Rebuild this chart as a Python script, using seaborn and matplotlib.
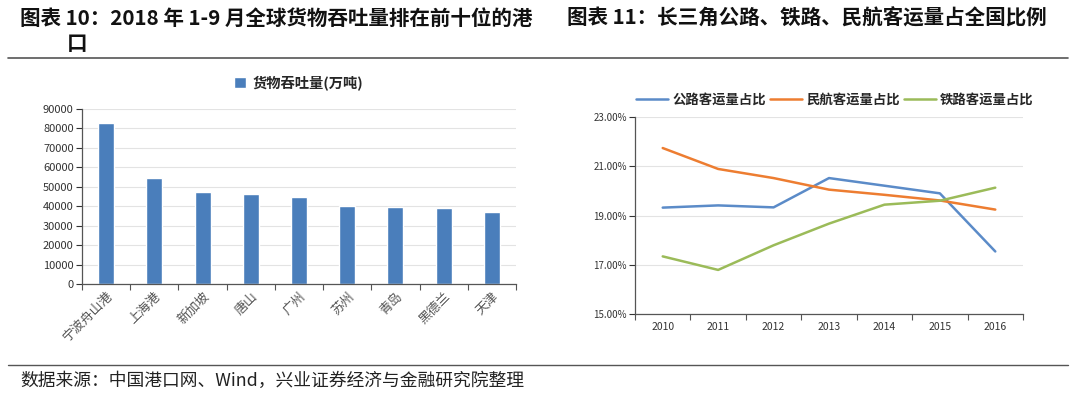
import numpy as np
import pandas as pd
import matplotlib
matplotlib.use('Agg')
import matplotlib.pyplot as plt
import seaborn as sns
from matplotlib.ticker import FuncFormatter, FixedLocator

sns.set_theme(style='white')
plt.rcParams['font.family'] = ['Noto Sans CJK SC', 'DejaVu Sans']
plt.rcParams['axes.unicode_minus'] = False

# Data - left chart (port throughput, 10k tons)
ports = ['宁波舟山港', '上海港', '新加坡', '唐山', '广州', '苏州', '青岛', '黑德兰', '天津']
throughput = [83000, 54700, 47100, 46100, 44600, 39900, 39800, 39300, 37000]

# Data - right chart (share of national passenger volume, %)
years = [2010, 2011, 2012, 2013, 2014, 2015, 2016]
road_share = [19.32, 19.41, 19.33, 20.52, 20.21, 19.90, 17.54]
air_share = [21.74, 20.89, 20.52, 20.05, 19.84, 19.61, 19.24]
rail_share = [17.34, 16.79, 17.79, 18.67, 19.44, 19.60, 20.13]

fig = plt.figure(figsize=(10.8, 3.95), dpi=100)

# Titles and rules
fig.text(20 / 1080, 1 - 18 / 395, '图表 10：2018 年 1-9 月全球货物吞吐量排在前十位的港',
         fontsize=14.8, fontweight='bold', va='center', ha='left', color='#111111')
fig.text(67 / 1080, 1 - 43 / 395, '口', fontsize=14.8, fontweight='bold',
         va='center', ha='left', color='#111111')
fig.text(567 / 1080, 1 - 18 / 395, '图表 11：长三角公路、铁路、民航客运量占全国比例',
         fontsize=14.8, fontweight='bold', va='center', ha='left', color='#111111')
fig.add_artist(plt.Line2D([8 / 1080, 1068 / 1080], [1 - 58 / 395, 1 - 58 / 395],
                          color='#555555', lw=1.2))
fig.add_artist(plt.Line2D([8 / 1080, 1068 / 1080], [1 - 365 / 395, 1 - 365 / 395],
                          color='#555555', lw=1.0))
fig.text(20 / 1080, 1 - 381 / 395, '数据来源：中国港口网、Wind，兴业证券经济与金融研究院整理',
         fontsize=12.8, va='center', ha='left', color='#222222')

# Left: bar chart
ax1 = fig.add_axes([82 / 1080, 1 - 284 / 395, 434 / 1080, 175 / 395])
df_bar = pd.DataFrame({'port': ports, 'value': throughput})
sns.barplot(data=df_bar, x='port', y='value', color='#4A7EBB', width=0.33,
            saturation=1, ax=ax1, label='货物吞吐量(万吨)')
ax1.set_xlim(-0.5, len(ports) - 0.5)
ax1.set_ylim(0, 90000)
ax1.set_yticks(np.arange(0, 90001, 10000))
ax1.set_xlabel('')
ax1.set_ylabel('')
ax1.yaxis.grid(True, color='#e3e3e3', lw=0.8)
ax1.set_axisbelow(True)
for s in ['top', 'right']:
    ax1.spines[s].set_visible(False)
for s in ['left', 'bottom']:
    ax1.spines[s].set_color('#555555')
    ax1.spines[s].set_linewidth(0.9)
ax1.tick_params(axis='y', labelsize=8, colors='#333333', length=4, width=0.8,
                direction='out', left=True, pad=2)
ax1.tick_params(axis='x', length=0, labelsize=9.3, colors='#555555', pad=4)
ax1.xaxis.set_minor_locator(FixedLocator(np.arange(-0.5, len(ports), 1)))
ax1.tick_params(axis='x', which='minor', length=4, width=0.8, color='#555555',
                direction='out', bottom=True)
plt.setp(ax1.get_xticklabels(), rotation=45, ha='right', rotation_mode='anchor')
ax1.legend(loc='center', bbox_to_anchor=(0.5, 1.15), frameon=False,
           handlelength=0.8, handleheight=0.8, handletextpad=0.5,
           prop={'weight': 'bold', 'size': 10.3})

# Right: line chart
ax2 = fig.add_axes([635 / 1080, 1 - 314 / 395, 388 / 1080, 197 / 395])
df_line = pd.DataFrame({
    'year': years * 3,
    'share': road_share + air_share + rail_share,
    'series': ['公路客运量占比'] * 7 + ['民航客运量占比'] * 7 + ['铁路客运量占比'] * 7,
})
sns.lineplot(data=df_line, x='year', y='share', hue='series',
             palette=['#5B8BC8', '#ED7D31', '#9BBB59'], lw=1.8, ax=ax2)
ax2.set_xlim(years[0] - 0.5, years[-1] + 0.5)
ax2.set_ylim(15, 23)
ax2.set_yticks([15, 17, 19, 21, 23])
ax2.yaxis.set_major_formatter(FuncFormatter(lambda v, p: f'{v:.2f}%'))
ax2.set_xticks(years)
ax2.set_xticklabels([str(y) for y in years])
ax2.set_xlabel('')
ax2.set_ylabel('')
ax2.yaxis.grid(True, color='#e3e3e3', lw=0.8)
ax2.set_axisbelow(True)
for s in ['top', 'right']:
    ax2.spines[s].set_visible(False)
for s in ['left', 'bottom']:
    ax2.spines[s].set_color('#555555')
    ax2.spines[s].set_linewidth(0.9)
ax2.tick_params(axis='y', labelsize=7, colors='#333333', length=4, width=0.8,
                direction='out', left=True, pad=2)
ax2.tick_params(axis='x', length=0, labelsize=7.5, colors='#333333', pad=6)
ax2.xaxis.set_minor_locator(FixedLocator(np.arange(years[0] - 0.5, years[-1] + 1, 1)))
ax2.tick_params(axis='x', which='minor', length=4, width=0.8, color='#555555',
                direction='out', bottom=True)
ax2.legend(loc='center', bbox_to_anchor=(0.515, 1.086), ncol=3, frameon=False,
           handlelength=2.4, handletextpad=0.3, columnspacing=0.3,
           prop={'weight': 'bold', 'size': 9.6})

fig.savefig('out.png', dpi=100)
